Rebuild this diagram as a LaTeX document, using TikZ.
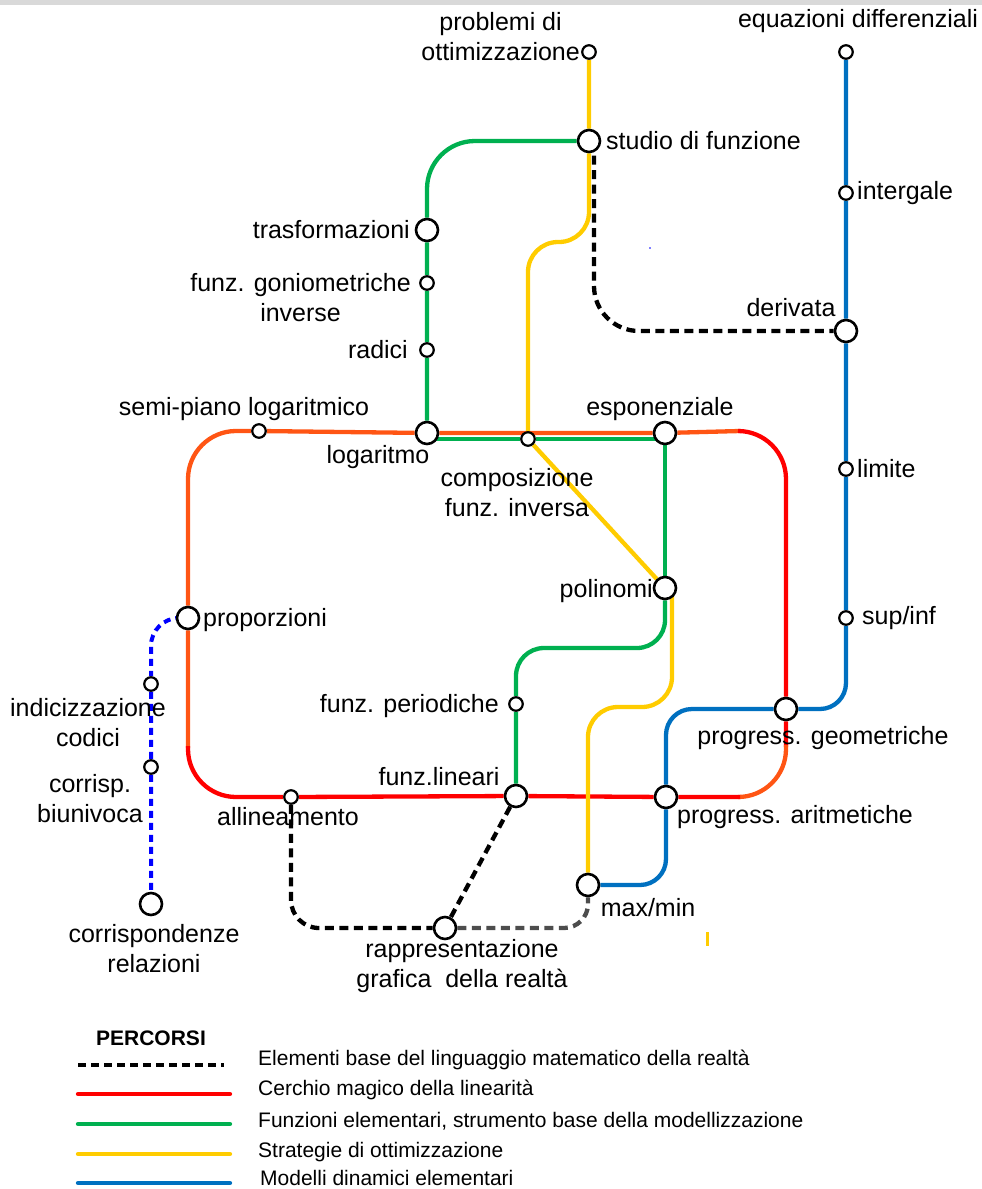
\documentclass[tikz,border=0pt]{standalone}
\usepackage{fontspec}
\setmainfont{Liberation Sans}
\usetikzlibrary{backgrounds}
\definecolor{lineorange}{RGB}{255,85,20}
\definecolor{linered}{RGB}{255,0,0}
\definecolor{linegreen}{RGB}{0,176,80}
\definecolor{lineyellow}{RGB}{255,204,0}
\definecolor{lineblue}{RGB}{0,112,192}
\definecolor{dotblue}{RGB}{0,0,255}
\definecolor{dashgray}{RGB}{77,77,77}
\definecolor{topbar}{RGB}{217,217,217}
\begin{document}
\begin{tikzpicture}[x=1pt,y=-1pt]
	\tikzstyle{station}=[circle,draw=black,fill=white,line width=2.2pt,inner sep=0pt,minimum size=13.5pt]
	\tikzstyle{hub}=[circle,draw=black,fill=white,line width=2.6pt,inner sep=0pt,minimum size=22pt]
	\tikzstyle{lbl}=[inner sep=0pt,font=\fontsize{25}{30}\selectfont,align=center]
	\tikzstyle{legend}=[inner sep=0pt,font=\fontsize{21}{25}\selectfont]
	\tikzstyle{metro}=[line width=4.3pt]
	\tikzstyle{dashline}=[line width=4.3pt,dash pattern=on 9pt off 5.5pt]
	\useasboundingbox (0,0) rectangle (982,1189);
	\fill[topbar] (0,0) rectangle (982,5);
	\begin{scope}
		\node [station] (ottim) at (589,52) {};
		\node [station] (eqdiff) at (846,52) {};
		\node [hub] (studio) at (589,141) {};
		\node [station] (integ) at (846,193) {};
		\node [hub] (trasf) at (427,230) {};
		\node [station] (gonio) at (427,283) {};
		\node [station] (radici) at (427,350) {};
		\node [hub] (deriv) at (846,331) {};
		\node [station] (semi) at (259,431) {};
		\node [hub] (logar) at (427,433) {};
		\node [station] (compos) at (528,439) {};
		\node [hub] (espo) at (665,433) {};
		\node [station] (limite) at (846,469) {};
		\node [hub] (polin) at (665,588) {};
		\node [hub] (propor) at (188,618) {};
		\node [station] (supinf) at (846,618) {};
		\node [station] (indic) at (151,684) {};
		\node [station] (perio) at (516,704) {};
		\node [hub] (pgeom) at (786,709) {};
		\node [station] (corrb) at (151,767) {};
		\node [station] (allin) at (291,797) {};
		\node [hub] (flin) at (516,796) {};
		\node [hub] (parit) at (666,797) {};
		\node [hub] (maxmin) at (588,885) {};
		\node [hub] (corrisp) at (151,904) {};
		\node [hub] (rappr) at (445,928) {};

		\node [lbl,anchor=east] (l-ottim) at (580,37) {problemi di\\ottimizzazione};
		\node [lbl] (l-eqdiff) at (858,21) {equazioni differenziali};
		\node [lbl,anchor=west] (l-studio) at (606,141) {studio di funzione};
		\node [lbl,anchor=west] (l-integ) at (857,193) {intergale};
		\node [lbl,anchor=east] (l-trasf) at (410,230) {trasformazioni};
		\node [lbl,anchor=east] (l-gonio) at (411,298) {funz. goniometriche\\inverse};
		\node [lbl,anchor=east] (l-radici) at (408,350) {radici};
		\node [lbl] (l-deriv) at (791,308) {derivata};
		\node [lbl] (l-semi) at (244,409) {semi-piano logaritmico};
		\node [lbl] (l-logar) at (378,457) {logaritmo};
		\node [lbl] (l-compos) at (517,493) {composizione\\funz. inversa};
		\node [lbl] (l-espo) at (660,409) {esponenziale};
		\node [lbl,anchor=west] (l-limite) at (857,469) {limite};
		\node [lbl,anchor=east] (l-polin) at (653,591) {polinomi};
		\node [lbl,anchor=west] (l-propor) at (203,620) {proporzioni};
		\node [lbl,anchor=west] (l-supinf) at (862,618) {sup/inf};
		\node [lbl] (l-indic) at (88,723) {indicizzazione\\codici};
		\node [lbl,anchor=east] (l-perio) at (499,706) {funz. periodiche};
		\node [lbl] (l-pgeom) at (823,738) {progress. geometriche};
		\node [lbl] (l-corrb) at (90,799) {corrisp.\\biunivoca};
		\node [lbl] (l-allin) at (288,817) {allineamento};
		\node [lbl] (l-flin) at (439,777) {funz.lineari};
		\node [lbl] (l-parit) at (795,817) {progress. aritmetiche};
		\node [lbl] (l-maxmin) at (648,908) {max/min};
		\node [lbl] (l-corrisp) at (154,949) {corrispondenze\\relazioni};
		\node [lbl] (l-rappr) at (462,966) {rappresentazione\\grafica\ \ della realtà};
	\end{scope}
	\begin{pgfonlayer}{background}
		\path[metro,draw=lineorange,rounded corners=48pt] (188,748) -- (propor) |- (semi) -- (logar) -- (espo) -- (740,431);
		\path[metro,draw=linered,rounded corners=48pt] (738,431) -| (pgeom) -- (786,747);
		\path[metro,draw=lineorange,rounded corners=48pt] (786,745) |- (738,797);
		\path[metro,draw=linered,rounded corners=48pt] (740,797) -- (parit) -- (flin) -- (allin) -| (188,746);
		\path[metro,draw=linegreen,rounded corners=48pt] (studio) -| (trasf) -- (gonio) -- (radici) -- (logar);
		\path[metro,draw=linegreen] (logar.center) ++(0,6) -- (compos) -- (espo.center |- compos) -- (polin);
		\path[metro,draw=linegreen,rounded corners=28pt] (polin) -- (665,648) -- (516,648) -- (perio) -- (flin);
		\path[metro,draw=lineblue,rounded corners=26pt] (eqdiff) -- (integ) -- (deriv) -- (limite) -- (supinf) |- (pgeom) -- (666,709) -- (parit) |- (maxmin);
		\path[metro,draw=lineyellow,rounded corners=30pt] (ottim) -- (studio) -- (589,242) -- (528,242) -- (compos) -- (polin);
		\path[metro,draw=lineyellow,rounded corners=30pt] (polin.center) ++(7,0) -- (672,707) -- (588,707) -- (maxmin);
		\path[dashline,draw=black,rounded corners=45pt] (studio.center) ++(5,0) -- (594,331) -- (deriv);
		\path[dashline,draw=black,rounded corners=28pt] (allin) -- (291,928) -- (rappr);
		\path[dashline,draw=black] (flin) -- (rappr);
		\path[dashline,draw=dashgray,rounded corners=24pt] (rappr) -- (588,928) -- (maxmin);
		\path[dashline,draw=dotblue,line width=4pt,dash pattern=on 7pt off 5pt,rounded corners=28pt] (propor) -| (indic) -- (corrb) -- (corrisp);
	\end{pgfonlayer}
	\draw[lineyellow,line width=3pt] (707,932) -- (707,946);
	\fill[dotblue] (650,248) circle (0.8);

	\node [legend,font=\fontsize{21}{25}\selectfont\bfseries] (percorsi) at (151,1038) {PERCORSI};
	\node [legend,anchor=west] (leg1) at (258,1060) {Elementi base del linguaggio matematico della realtà};
	\node [legend,anchor=west] (leg2) at (258,1090) {Cerchio magico della linearità};
	\node [legend,anchor=west] (leg3) at (258,1121) {Funzioni elementari, strumento base della modellizzazione};
	\node [legend,anchor=west] (leg4) at (258,1152) {Strategie di ottimizzazione};
	\node [legend,anchor=west] (leg5) at (260,1178) {Modelli dinamici elementari};
	\draw[dashline,line width=4pt,dash pattern=on 8pt off 5pt] (78,1065) -- (224,1065);
	\draw[metro,linered,line cap=round] (78,1094) -- (230,1094);
	\draw[metro,linegreen,line cap=round] (78,1124) -- (230,1124);
	\draw[metro,lineyellow,line cap=round] (78,1154) -- (230,1154);
	\draw[metro,lineblue,line cap=round] (78,1183) -- (230,1183);
\end{tikzpicture}
\end{document}
